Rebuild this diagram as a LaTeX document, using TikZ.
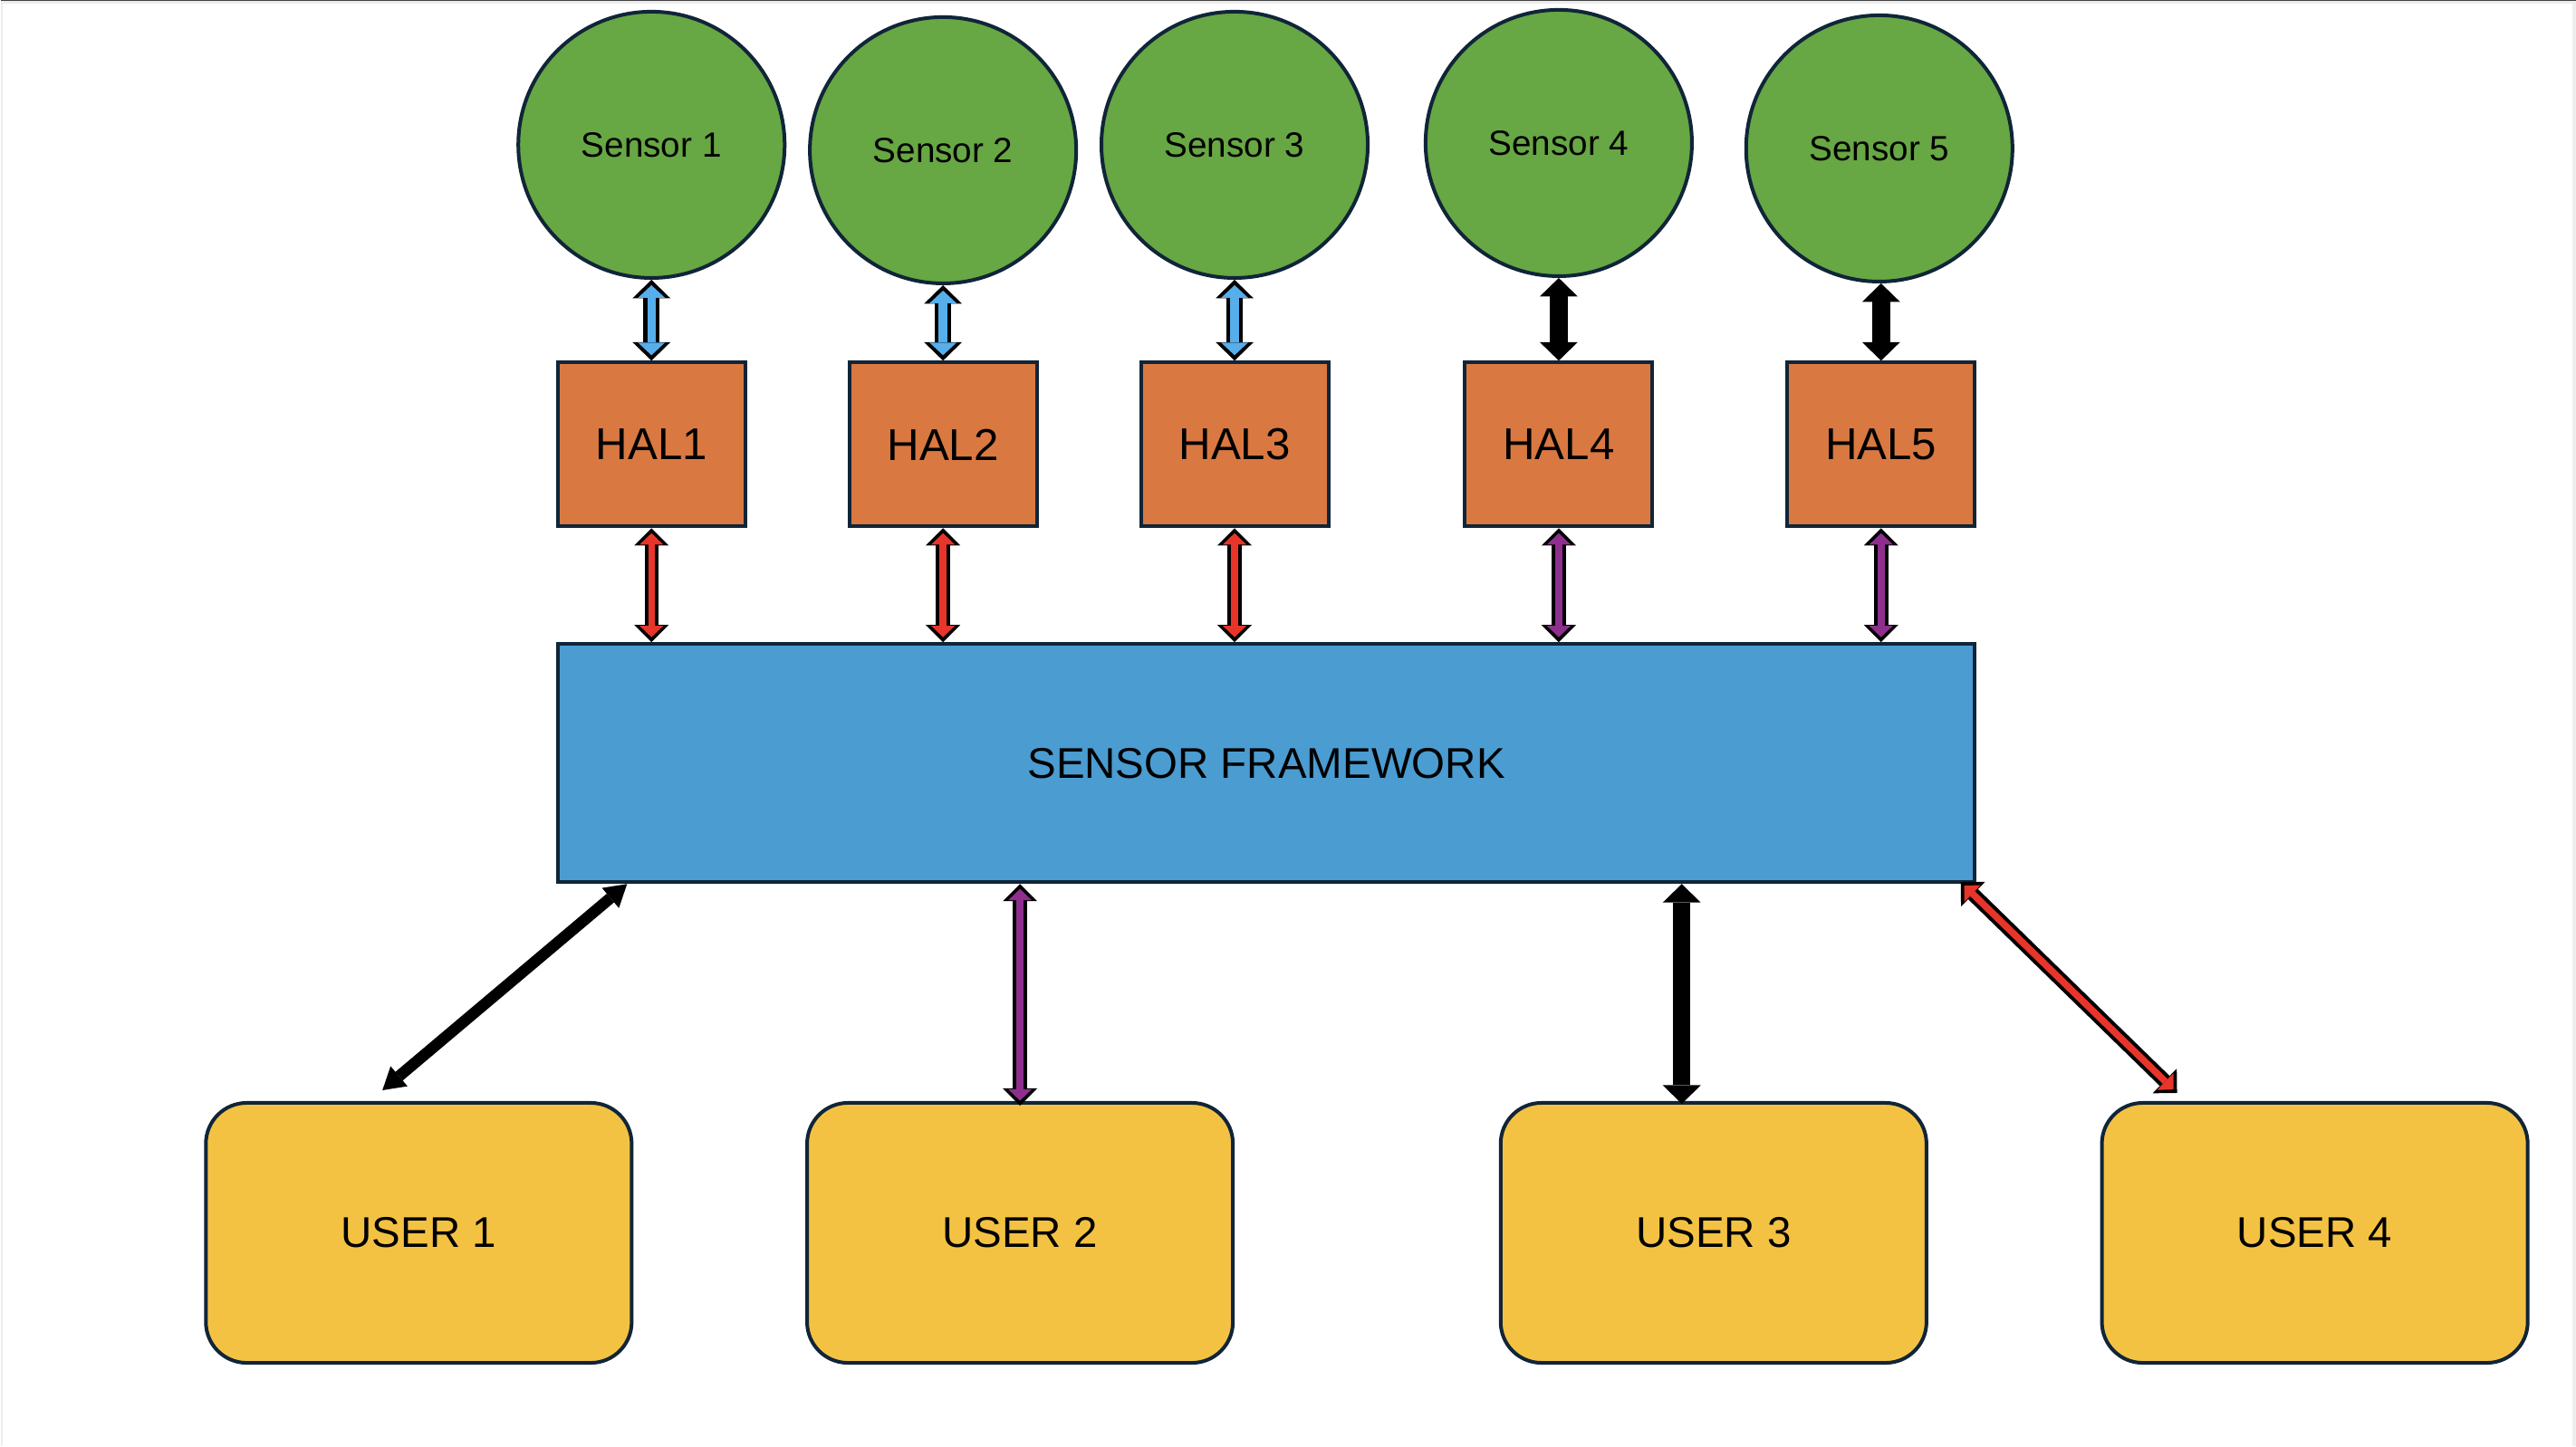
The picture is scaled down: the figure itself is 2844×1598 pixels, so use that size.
\documentclass[tikz,border=0pt]{standalone}
\usepackage{fontspec}
\setmainfont{Liberation Sans}
\usetikzlibrary{arrows.meta,calc}

\definecolor{edgecol}{HTML}{102538}
\definecolor{sensorgreen}{HTML}{67A744}
\definecolor{halorange}{HTML}{D97841}
\definecolor{fwblue}{HTML}{4A9CD1}
\definecolor{useryellow}{HTML}{F4C243}
\definecolor{linkblue}{HTML}{56AEEA}
\definecolor{linkred}{HTML}{E8352A}
\definecolor{linkpurple}{HTML}{8E2F8E}

\tikzset{
  sensor/.style={circle,draw=edgecol,line width=0.4mm,fill=sensorgreen,
    minimum size=2.94cm,inner sep=0pt,font=\fontsize{11pt}{13pt}\selectfont},
  hal/.style={rectangle,draw=edgecol,line width=0.4mm,fill=halorange,
    minimum width=2.07cm,minimum height=1.81cm,font=\fontsize{14pt}{16pt}\selectfont},
  framework/.style={rectangle,draw=edgecol,line width=0.4mm,fill=fwblue,
    minimum width=15.63cm,minimum height=2.63cm,font=\fontsize{13.5pt}{16pt}\selectfont},
  user/.style={rectangle,rounded corners=0.45cm,draw=edgecol,line width=0.4mm,fill=useryellow,
    minimum width=4.70cm,minimum height=2.87cm,font=\fontsize{13.5pt}{16pt}\selectfont},
  % outlined double arrows
  widelink/.style={draw=#1,line width=0.95mm,
    {Triangle[width=3.0mm,length=1.4mm,line width=0pt]}-{Triangle[width=3.0mm,length=1.4mm,line width=0pt]},
    shorten <=0.6mm,shorten >=0.6mm,
    preaction={draw=black,line width=1.8mm,
      {Triangle[width=4.2mm,length=2.05mm,line width=0pt]}-{Triangle[width=4.2mm,length=2.05mm,line width=0pt]},
      shorten <=0pt,shorten >=0pt}},
  slimlink/.style={draw=#1,line width=0.75mm,
    {Triangle[width=2.6mm,length=1.25mm,line width=0pt]}-{Triangle[width=2.6mm,length=1.25mm,line width=0pt]},
    shorten <=0.55mm,shorten >=0.55mm,
    preaction={draw=black,line width=1.55mm,
      {Triangle[width=3.8mm,length=1.9mm,line width=0pt]}-{Triangle[width=3.8mm,length=1.9mm,line width=0pt]},
      shorten <=0pt,shorten >=0pt}},
  boldlink/.style={draw=black,line width=1.95mm,
    {Triangle[width=4.2mm,length=2.05mm,line width=0pt]}-{Triangle[width=4.2mm,length=2.05mm,line width=0pt]}},
  leanlink/.style={draw=black,line width=1.25mm,
    {Triangle[width=2.9mm,length=2.4mm,line width=0pt]}-{Triangle[width=2.9mm,length=2.4mm,line width=0pt]}},
}

\begin{document}
\begin{tikzpicture}[x=0.01cm,y=-0.01cm]
\fill [color=black!7] (0, 0) rectangle (2844, 1598);
\fill [color=white] (3, 4) rectangle (2840, 1598);
\draw [color=black!75,line width=0.1mm] (0, 0.5) -- (2844, 0.5);

% sensors
\node (s1) at (719, 160) [sensor] {Sensor 1};
\node (s2) at (1041, 166) [sensor] {Sensor 2};
\node (s3) at (1363, 160) [sensor] {Sensor 3};
\node (s4) at (1721, 158) [sensor] {Sensor 4};
\node (s5) at (2075, 164) [sensor] {Sensor 5};

% hal layer
\node (h1) at (719, 491) [hal] {HAL1};
\node (h2) at (1041, 491) [hal] {HAL2};
\node (h3) at (1363, 491) [hal] {HAL3};
\node (h4) at (1721, 491) [hal] {HAL4};
\node (h5) at (2077, 491) [hal] {HAL5};

\node (fw) at (1398, 843) [framework] {SENSOR FRAMEWORK};

% users
\node (u1) at (462, 1362) [user] {USER 1};
\node (u2) at (1126, 1362) [user] {USER 2};
\node (u3) at (1892, 1362) [user] {USER 3};
\node (u4) at (2556, 1362) [user] {USER 4};

\draw [widelink=linkblue] (h1.north |- s1.south) -- (h1.north);
\draw [widelink=linkblue] (h2.north |- s2.south) -- (h2.north);
\draw [widelink=linkblue] (h3.north |- s3.south) -- (h3.north);
\draw [boldlink] (h4.north |- s4.south) -- (h4.north);
\draw [boldlink] (h5.north |- s5.south) -- (h5.north);

\draw [slimlink=linkred] (h1.south) -- (h1.south |- fw.north);
\draw [slimlink=linkred] (h2.south) -- (h2.south |- fw.north);
\draw [slimlink=linkred] (h3.south) -- (h3.south |- fw.north);
\draw [slimlink=linkpurple] (h4.south) -- (h4.south |- fw.north);
\draw [slimlink=linkpurple] (h5.south) -- (h5.south |- fw.north);

\draw [leanlink] ($(fw.south west)+(78,0)$) -- ($(u1.north west)+(197,-12)$);
\draw [slimlink=linkpurple] (u2.north |- fw.south) -- ($(u2.north)+(0,5)$);
\draw [boldlink] ($(u3.north west |- fw.south)+(202,0)$) -- ($(u3.north west)+(202,3)$);
\draw [slimlink=linkred] ($(fw.south east)+(-17,-2)$) -- ($(u4.north west)+(85,-9)$);
\end{tikzpicture}
\end{document}
